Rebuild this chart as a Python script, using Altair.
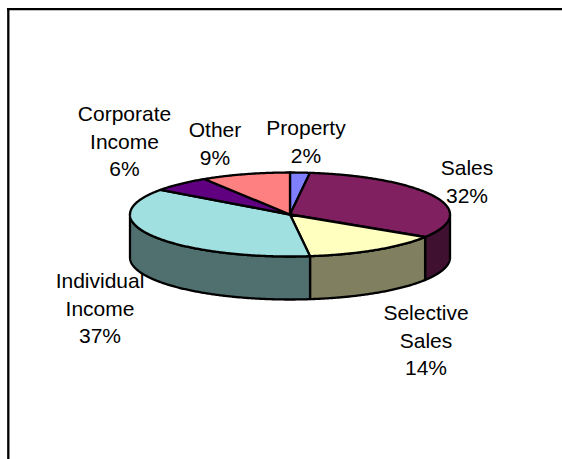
import math
import altair as alt

# Revenue shares, clockwise from twelve o'clock
categories = ["Property", "Sales", "Selective Sales", "Individual Income", "Corporate Income", "Other"]
shares = [2, 32, 14, 37, 6, 9]
top_colors = ["#8080FF", "#802060", "#FFFFC0", "#A0E0E0", "#600080", "#FF8080"]
side_colors = ["#404080", "#401030", "#808060", "#507070", "#300040", "#804040"]

# Tilted-disc geometry, in pixels
CX, CY = 290, 214.5
RX, RY = 160, 42
DEPTH = 43
FONT = "Liberation Sans"
FONT_SIZE = 21
LINE_HEIGHT = 27.5
LINE_WIDTH = 2.3


def rim(deg, drop=0.0):
    a = math.radians(deg)
    return [CX + RX * math.sin(a), CY - RY * math.cos(a) + drop]


def arc(start, end, drop=0.0):
    steps = max(2, int(abs(end - start) * 2))
    return [rim(start + (end - start) * i / steps, drop) for i in range(steps + 1)]


def feature(name, ring):
    return {
        "type": "Feature",
        "name": name,
        "geometry": {"type": "Polygon", "coordinates": [ring + [ring[0]]]},
    }


tops, walls = [], []
angle = 0.0
for name, share in zip(categories, shares):
    end = angle + share * 3.6
    tops.append(feature(name, [[CX, CY]] + arc(angle, end)))
    # Only the front half of the disc shows its side wall
    lo, hi = max(angle, 90.0), min(end, 270.0)
    if lo < hi:
        walls.append((lo, hi, name))
    angle = end

# Painted from the outer edges towards the front of the disc
wall_features = [feature(n, arc(lo, hi) + arc(hi, lo, DEPTH)) for lo, hi, n in walls]

identity = alt.Projection(type="identity", scale=1, translate=[0, 0])


def disc_layer(features, colors):
    return (
        alt.Chart(alt.Data(values=features))
        .mark_geoshape(stroke="black", strokeWidth=LINE_WIDTH, strokeJoin="round")
        .encode(
            color=alt.Color(
                "name:N",
                scale=alt.Scale(domain=categories, range=colors),
                legend=None,
            )
        )
        .project(**identity.to_dict())
    )


labels = [
    ("Property\n2%", 306, 135),
    ("Sales\n32%", 467, 175),
    ("Selective\nSales\n14%", 426, 320),
    ("Individual\nIncome\n37%", 100, 288),
    ("Corporate\nIncome\n6%", 124.5, 121),
    ("Other\n9%", 215, 137),
]

label_layers = [
    alt.Chart(alt.Data(values=[{"label": text}]))
    .mark_text(
        font=FONT,
        fontSize=FONT_SIZE,
        color="black",
        align="center",
        baseline="alphabetic",
        lineBreak="\n",
        lineHeight=LINE_HEIGHT,
    )
    .encode(text="label:N", x=alt.value(x), y=alt.value(y))
    for text, x, y in labels
]

frame_top = alt.Chart(alt.Data(values=[{"k": 0}])).mark_rule(color="black", strokeWidth=LINE_WIDTH).encode(
    x=alt.value(7), x2=alt.value(562), y=alt.value(9.2)
)
frame_left = alt.Chart(alt.Data(values=[{"k": 0}])).mark_rule(color="black", strokeWidth=LINE_WIDTH).encode(
    x=alt.value(8.3), y=alt.value(8), y2=alt.value(459)
)

chart = (
    alt.layer(
        frame_top,
        frame_left,
        disc_layer(wall_features, side_colors),
        disc_layer(tops, top_colors),
        *label_layers,
    )
    .resolve_scale(color="independent")
    .properties(
        width=562,
        height=459,
        padding=0,
        background="white",
        autosize=alt.AutoSizeParams(type="none"),
    )
    .configure_view(stroke=None)
)

chart.save("out.html", embed_options={"renderer": "svg", "actions": False})
